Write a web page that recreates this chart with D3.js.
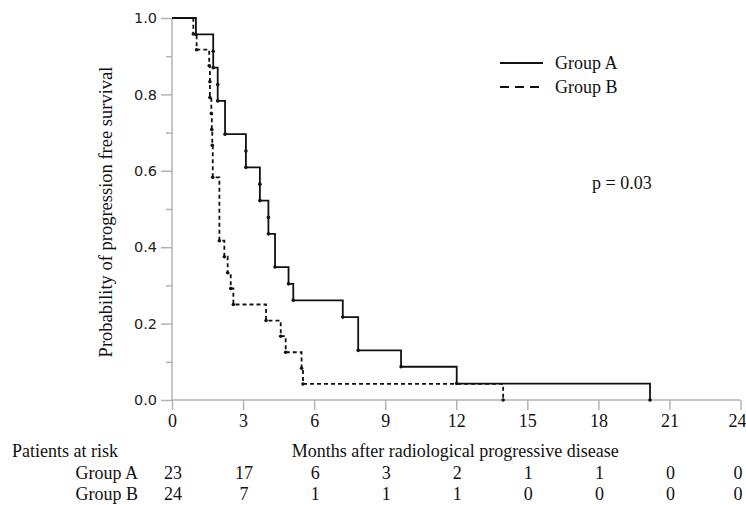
<!DOCTYPE html>
<html><head><meta charset="utf-8">
<script src="https://cdn.jsdelivr.net/npm/d3@7"></script>
<style>body{margin:0;background:#fff}svg{display:block}</style>
</head><body>
<svg id="chart" width="746" height="505"></svg>
<script>
// ---- data ----
const groupNames = ["Group A", "Group B"];
const groupATimes = [1.01, 1.74, 1.74, 1.93, 1.93, 2.24, 2.24, 3.12, 3.12, 3.71, 3.71, 4.07, 4.07, 4.35, 4.35, 4.92, 5.12, 7.21, 7.86, 7.86, 9.67, 12.02, 20.18];
const groupASurv  = [0.957, 0.913, 0.870, 0.826, 0.783, 0.739, 0.696, 0.652, 0.609, 0.565, 0.522, 0.478, 0.435, 0.391, 0.348, 0.304, 0.261, 0.217, 0.174, 0.130, 0.087, 0.043, 0.0];
const groupBTimes = [0.90, 1.04, 1.57, 1.60, 1.60, 1.66, 1.68, 1.70, 1.72, 1.72, 2.00, 2.00, 2.00, 2.00, 2.21, 2.35, 2.48, 2.59, 3.97, 4.59, 4.80, 5.47, 5.53, 13.98];
const groupBSurv  = [0.958, 0.917, 0.875, 0.833, 0.792, 0.750, 0.708, 0.667, 0.625, 0.583, 0.542, 0.500, 0.458, 0.417, 0.375, 0.333, 0.292, 0.250, 0.208, 0.167, 0.125, 0.083, 0.042, 0.0];
const groupADots = [0,1,2,3,4,6,7,8,9,10,11,12,14,15,16,17,19,20,21,22];
const groupBDots = [0,1,2,3,4,5,6,7,9,13,14,15,16,17,18,19,20,21,22,23];
const xTicks = [0, 3, 6, 9, 12, 15, 18, 21, 24];
const yMajor = [0, 0.2, 0.4, 0.6, 0.8, 1.0];
const yMinor = [0.1, 0.3, 0.5, 0.7, 0.9];
const riskA = [23, 17, 6, 3, 2, 1, 1, 0, 0];
const riskB = [24, 7, 1, 1, 1, 0, 0, 0, 0];
const pText = "p = 0.03";

// ---- drawing ----
const svg = d3.select("#chart");
const x = d3.scaleLinear().domain([0, 24]).range([172, 740.5]);
const y = d3.scaleLinear().domain([0, 1]).range([400, 18]);
const serif = "'Liberation Serif', 'Times New Roman', serif";
const sans = "'DejaVu Sans', Verdana, sans-serif";
const axisColor = "#b3b3b3";
const edgeShift = v => (v === 24 ? -3.5 : 0);

// y axis
const yAxis = svg.append("g").attr("transform", `translate(${x(0)},0)`)
  .call(d3.axisLeft(y).tickValues(yMajor).tickFormat(d3.format(".1f")).tickSize(11).tickPadding(4));
yAxis.select(".domain").attr("stroke", axisColor).attr("stroke-width", 1.5).attr("d", `M0,${y(1)}V${y(0)}`);
yAxis.selectAll(".tick line").attr("stroke", axisColor).attr("stroke-width", 1.5);
yAxis.selectAll(".tick text").attr("font-family", sans).attr("font-size", 14.5).attr("fill", "#222");
const yMin = svg.append("g").attr("transform", `translate(${x(0)},0)`)
  .call(d3.axisLeft(y).tickValues(yMinor).tickFormat("").tickSize(6));
yMin.select(".domain").remove();
yMin.selectAll(".tick line").attr("stroke", axisColor).attr("stroke-width", 1.5);

// x axis
const xAxis = svg.append("g").attr("transform", `translate(0,${y(0)})`)
  .call(d3.axisBottom(x).tickValues(xTicks).tickSize(10).tickPadding(4));
xAxis.select(".domain").attr("stroke", axisColor).attr("stroke-width", 1.5).attr("d", `M${x(0)},0H${x(24)}`);
xAxis.selectAll(".tick line").attr("stroke", axisColor).attr("stroke-width", 1.5);
xAxis.selectAll(".tick text").attr("font-family", serif).attr("font-size", 18).attr("fill", "#111")
  .attr("dx", d => edgeShift(d));

// curves
const line = d3.line().x(d => x(d[0])).y(d => y(d[1])).curve(d3.curveStepAfter);
function pts(times, surv) { return [[0, 1]].concat(times.map((t, i) => [t, surv[i]])); }
const series = [
  {times: groupATimes, surv: groupASurv, dots: groupADots, dash: null, w: 1.8},
  {times: groupBTimes, surv: groupBSurv, dots: groupBDots, dash: "4,3", w: 1.8}
];
series.forEach(s => {
  svg.append("path").attr("d", line(pts(s.times, s.surv)))
    .attr("fill", "none").attr("stroke", "#111").attr("stroke-width", s.w)
    .attr("stroke-dasharray", s.dash);
  svg.append("g").selectAll("circle").data(s.dots).join("circle")
    .attr("cx", i => x(s.times[i])).attr("cy", i => y(s.surv[i])).attr("r", 1.8).attr("fill", "#111");
});

// y label
svg.append("text").attr("transform", `translate(112,212) rotate(-90)`)
  .attr("text-anchor", "middle").attr("font-family", serif).attr("font-size", 18.5).attr("fill", "#111")
  .text("Probability of progression free survival");

// legend
const leg = svg.append("g");
[0, 1].forEach(i => {
  const yy = 63 + i * 24;
  leg.append("line").attr("x1", 500).attr("x2", 543).attr("y1", yy).attr("y2", yy)
    .attr("stroke", "#111").attr("stroke-width", 2).attr("stroke-dasharray", i ? "9,6" : null);
  leg.append("text").attr("x", 555).attr("y", yy).attr("dy", "0.35em")
    .attr("font-family", serif).attr("font-size", 18).attr("fill", "#111").text(groupNames[i]);
});
svg.append("text").attr("x", 592).attr("y", 183).attr("dy", "0.35em")
  .attr("font-family", serif).attr("font-size", 18).attr("fill", "#111").text(pText);

// risk table
const tf = {"font-family": serif, "font-size": 18, "fill": "#111"};
function applyAttrs(sel) { Object.entries(tf).forEach(([k, v]) => sel.attr(k, v)); return sel; }
applyAttrs(svg.append("text").attr("x", 12).attr("y", 457)).text("Patients at risk");
applyAttrs(svg.append("text").attr("x", (x(0) + x(24)) / 2 - 1).attr("y", 457).attr("text-anchor", "middle").attr("font-size", 18.5))
  .text("Months after radiological progressive disease");
[riskA, riskB].forEach((row, r) => {
  const yy = 478.5 + r * 21;
  applyAttrs(svg.append("text").attr("x", 138).attr("y", yy).attr("text-anchor", "end")).text(groupNames[r]);
  row.forEach((v, i) => {
    applyAttrs(svg.append("text").attr("x", x(xTicks[i]) + edgeShift(xTicks[i]) + 1).attr("y", yy).attr("text-anchor", "middle")).text(v);
  });
});
</script>
</body></html>
